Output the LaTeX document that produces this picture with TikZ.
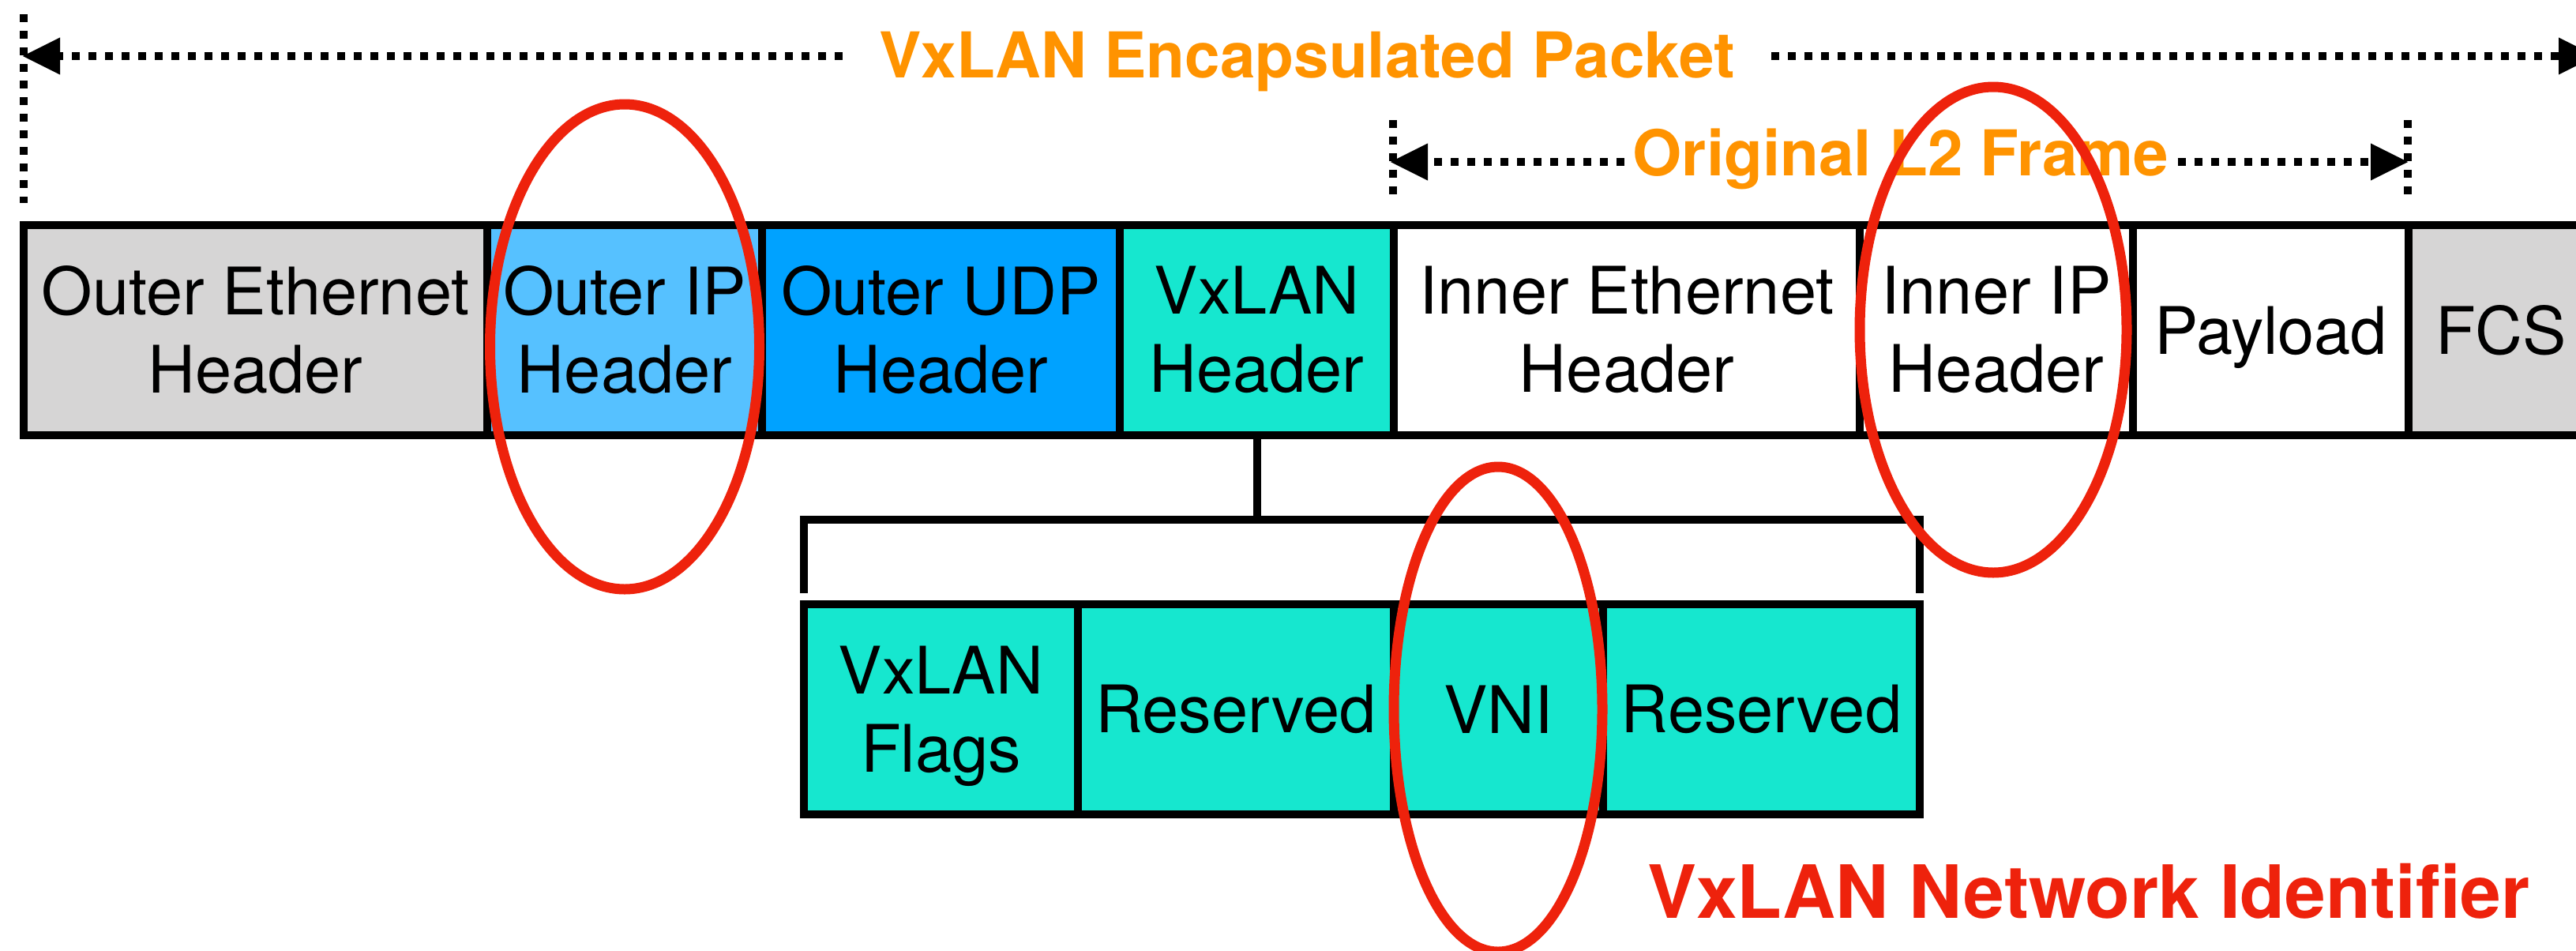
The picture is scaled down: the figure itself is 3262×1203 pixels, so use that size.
\documentclass[tikz,border=0pt]{standalone}
\usepackage{fontspec}
\setmainfont{TeX Gyre Heros}
\usetikzlibrary{arrows.meta}
\definecolor{cgray}{HTML}{D6D5D5}
\definecolor{csky}{HTML}{56C1FF}
\definecolor{caqua}{HTML}{00A2FF}
\definecolor{cteal}{HTML}{16E7CF}
\definecolor{corange}{HTML}{FF9300}
\definecolor{cred}{HTML}{EE220C}
\begin{document}
\begin{tikzpicture}[x=1pt,y=-1pt,
  field/.style={draw=black, line width=10pt, inner sep=0pt, outer sep=0pt,
    minimum height=266.5pt, align=center, font=\fontsize{83}{99}\selectfont},
  sub/.style={field, fill=cteal, minimum height=266pt},
  wire/.style={line width=10pt},
  dotline/.style={line width=10pt, dash pattern=on 10pt off 11pt},
  tipped/.style={dotline, -{Triangle[length=48pt,width=44pt]}},
  ring/.style={draw=cred, line width=13pt},
  ttl/.style={text=corange, font=\fontsize{80}{96}\selectfont\bfseries, inner sep=0pt}]
\useasboundingbox (0,0) rectangle (3262,1203);
% main row
\node[field, fill=cgray, minimum width=587pt] (oeth) at (323.5,417.75) {Outer Ethernet\\Header};
\node[field, fill=csky, minimum width=348pt] (oip) at (791,417.75) {Outer IP\\Header};
\node[field, fill=caqua, minimum width=453pt] (oudp) at (1191.5,417.75) {Outer UDP\\Header};
\node[field, fill=cteal, minimum width=347pt] (vxh) at (1591.5,417.75) {VxLAN\\Header};
\node[field, fill=white, minimum width=590pt] (ieth) at (2060,417.75) {Inner Ethernet\\Header};
\node[field, fill=white, minimum width=346pt] (iip) at (2528,417.75) {Inner IP\\Header};
\node[field, fill=white, minimum width=349pt, text depth=0pt] (pay) at (2875.5,417.75) {Payload};
\node[field, fill=cgray, minimum width=234pt] (fcs) at (3167,417.75) {FCS};
% sub row
\node[sub, minimum width=347pt] (flags) at (1191.5,898) {VxLAN\\Fla\smash{g}s};
\node[sub, minimum width=400pt] (res1) at (1565,898) {Reserved};
\node[sub, minimum width=265pt] (vni) at (1897.5,898) {VNI};
\node[sub, minimum width=401pt] (res2) at (2230.5,898) {Reserved};
% bracket
\coordinate (brk) at (1591.5,658);
\draw[wire] (vxh.south) -- (brk);
\draw[wire] ([yshift=14pt]flags.north west) -- (flags.north west |- brk) -- (res2.north east |- brk) -- ([yshift=14pt]res2.north east);
% top arrow
\coordinate (pktL) at (28,71);
\coordinate (pktR) at (3288,71);
\node[ttl, inner xsep=46pt, anchor=base] (pkt) at (1655,98) {VxLAN Encapsulated Packet};
\draw[tipped] (pkt.west |- pktL) -- (pktL);
\draw[tipped] (pkt.east |- pktR) -- (pktR);
\coordinate (gA1) at (30,18);
\coordinate (gA2) at (30,257);
\draw[dotline] (gA1) -- (gA2);
% L2 arrow
\coordinate (l2L) at (1760,205);
\coordinate (l2R) at (3050,205);
\node[ttl, inner xsep=11pt, anchor=base] (l2) at (2407,222) {Original L2 Frame};
\draw[tipped] (l2.west |- l2L) -- (l2L);
\draw[tipped] (l2.east |- l2R) -- (l2R);
\coordinate (gB1) at (1764,152);
\coordinate (gB2) at (1764,247);
\coordinate (gC1) at (3049,152);
\coordinate (gC2) at (3049,247);
\draw[dotline] (gB1) -- (gB2);
\draw[dotline] (gC1) -- (gC2);
% label
\node[font=\fontsize{93}{110}\selectfont\bfseries, text=cred, anchor=base, inner sep=0pt] (vnilbl) at (2645,1162) {VxLAN Network Identifier};
% rings
\draw[ring] (791,439) ellipse [x radius=170.5pt, y radius=307pt];
\draw[ring] (2524,417.5) ellipse [x radius=169pt, y radius=307.5pt];
\draw[ring] (1897,898) ellipse [x radius=132pt, y radius=307pt];
\end{tikzpicture}
\end{document}
